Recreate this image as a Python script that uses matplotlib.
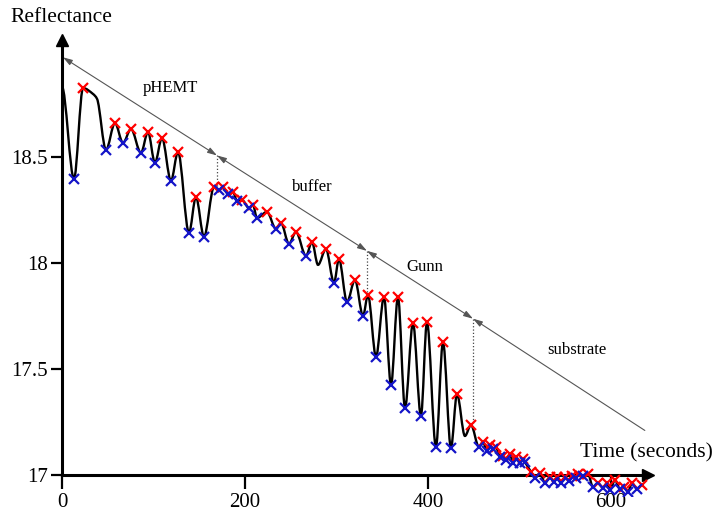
import numpy as np
import matplotlib.pyplot as plt
from matplotlib.path import Path
from matplotlib.patches import PathPatch

plt.rcParams['font.family'] = ['Liberation Serif', 'DejaVu Serif']

# reflectance maxima (red crosses)
peak_t = [23.0, 57.9, 75.4, 94.0, 109.3, 126.8, 146.4,
          166.1, 176.0, 186.9, 196.7, 208.7, 224.0, 239.3, 255.7, 273.2,
          288.5, 302.7, 320.2, 334.4,
          351.9, 367.2, 383.6, 398.9, 416.4, 431.7, 447.0,
          460.1, 467.8, 474.3, 482.0, 489.6, 496.2, 503.8, 512.6, 522.4,
          533.3, 541.0, 549.7, 557.4, 563.9, 574.9, 585.8, 595.6, 604.4,
          614.2, 623.0, 633.9]
peak_r = [18.825, 18.660, 18.632, 18.618, 18.590, 18.524, 18.311,
          18.358, 18.358, 18.335, 18.297, 18.274, 18.241, 18.189, 18.146, 18.099,
          18.066, 18.019, 17.920, 17.849,
          17.840, 17.840, 17.717, 17.722, 17.627, 17.382, 17.236,
          17.156, 17.142, 17.132, 17.090, 17.099, 17.085, 17.075, 17.014, 17.009,
          16.991, 16.991, 16.991, 16.995, 17.005, 17.005, 16.962, 16.962, 16.976,
          16.943, 16.962, 16.953]

# reflectance minima (blue crosses)
dip_t = [13.1, 48.1, 66.7, 86.3, 101.6, 119.1, 138.8, 155.2,
         171.6, 181.4, 191.3, 204.4, 213.1, 233.9, 248.1, 266.7,
         297.3, 311.5, 329.0,
         343.2, 359.6, 374.9, 392.3, 408.7, 425.1,
         455.7, 464.5, 471.0, 478.7, 485.2, 492.9, 500.5, 506.0, 517.0,
         527.9, 537.7, 545.4, 554.1, 561.7, 569.4, 580.3, 591.3, 598.9,
         609.8, 618.6, 628.4]
dip_r = [18.396, 18.533, 18.566, 18.519, 18.472, 18.387, 18.142, 18.123,
         18.344, 18.325, 18.292, 18.259, 18.212, 18.160, 18.090, 18.033,
         17.906, 17.816, 17.750,
         17.557, 17.425, 17.316, 17.278, 17.132, 17.127,
         17.132, 17.113, 17.123, 17.085, 17.071, 17.057, 17.057, 17.061, 16.986,
         16.962, 16.967, 16.962, 16.972, 16.986, 16.995, 16.943, 16.939, 16.929,
         16.934, 16.920, 16.934]

# points of the trace without a marker
knee_t = [0.0, 33.9, 38.3, 279.8, 440.4]
knee_r = [18.830, 18.797, 18.774, 17.991, 17.184]

layer_names = ['pHEMT', 'buffer', 'Gunn', 'substrate']
edge_t = [1.0, 169.4, 333.3, 449.2, 637.0]
edge_r = [18.970, 18.507, 18.057, 17.737, 17.210]
drop_r = [18.360, 17.849, 17.236]
label_t = [118, 274, 396, 563]
label_r = [18.825, 18.358, 17.981, 17.590]


def smooth_path(t, r):
    t = np.asarray(t)
    r = np.asarray(r)
    d = np.diff(r) / np.diff(t)
    m = np.zeros(len(t))
    for i in range(1, len(t) - 1):
        if d[i - 1] * d[i] > 0:
            m[i] = 2 / (1 / d[i - 1] + 1 / d[i])
    verts = [(t[0], r[0])]
    codes = [Path.MOVETO]
    for i in range(len(t) - 1):
        h = (t[i + 1] - t[i]) / 3
        verts += [(t[i] + h, r[i] + m[i] * h),
                  (t[i + 1] - h, r[i + 1] - m[i + 1] * h),
                  (t[i + 1], r[i + 1])]
        codes += [Path.CURVE4] * 3
    return Path(verts, codes)


all_t = np.array(peak_t + dip_t + knee_t)
all_r = np.array(peak_r + dip_r + knee_r)
order = np.argsort(all_t)

fig = plt.figure(figsize=(7.15, 5.12), dpi=100)
ax = fig.add_axes([0.0867, 0.0309, 0.8318, 0.9007])
ax.set_xlim(0, 650)
ax.set_ylim(16.90, 19.075)

ax.add_patch(PathPatch(smooth_path(all_t[order], all_r[order]),
                       fill=False, edgecolor='black', lw=1.7, zorder=3))
ax.plot(peak_t, peak_r, 'x', color='#ff0000', ms=7, mew=1.6, zorder=4)
ax.plot(dip_t, dip_r, 'x', color='#1414c8', ms=7, mew=1.6, zorder=4)

# layer thickness guide
for i in range(4):
    style = '<|-|>' if i < 3 else '<|-'
    ax.annotate('', xy=(edge_t[i + 1], edge_r[i + 1]), xytext=(edge_t[i], edge_r[i]),
                arrowprops=dict(arrowstyle=style + ',head_length=0.8,head_width=0.25',
                                color='#555555', lw=0.8, shrinkA=0, shrinkB=0,
                                mutation_scale=7))
    ax.text(label_t[i], label_r[i], layer_names[i], ha='center', va='center', fontsize=12)
for i in range(3):
    ax.plot([edge_t[i + 1]] * 2, [edge_r[i + 1], drop_r[i]], ls=':', color='#444444', lw=0.9)

for s in ['top', 'right']:
    ax.spines[s].set_visible(False)
ax.spines['bottom'].set_position(('data', 17))
ax.spines['bottom'].set_bounds(0, 641)
ax.spines['left'].set_bounds(17, 19.05)
for s in ['bottom', 'left']:
    ax.spines[s].set_linewidth(2.2)
    ax.spines[s].set_capstyle('projecting')
ax.plot(641, 17, '>k', ms=9, clip_on=False)
ax.plot(0, 19.05, '^k', ms=9, clip_on=False)

ax.set_xticks([0, 200, 400, 600])
ax.set_yticks([17, 17.5, 18, 18.5])
ax.set_yticklabels(['17', '17.5', '18', '18.5'])
ax.tick_params(axis='both', labelsize=15, width=1.6, direction='out')
ax.tick_params(axis='x', length=10, pad=3)
ax.tick_params(axis='y', length=8, pad=2)

fig.text(0.014, 1 - 18 / 512, 'Reflectance', fontsize=15.5, ha='left', va='center')
fig.text(0.997, 1 - 453 / 512, 'Time (seconds)', fontsize=15.5, ha='right', va='center')

fig.savefig('out.png', dpi=100)
